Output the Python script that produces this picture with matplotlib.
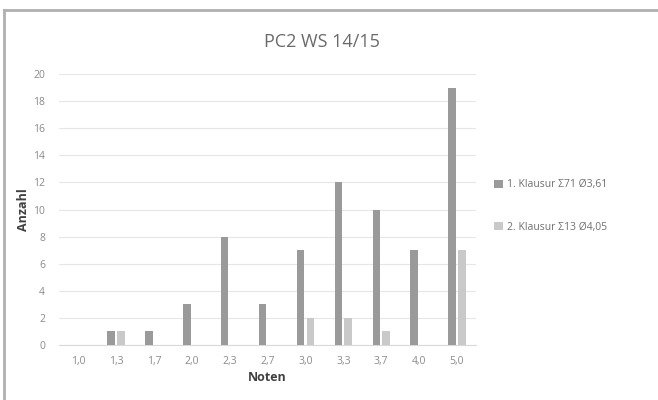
import matplotlib
matplotlib.use("Agg")
import matplotlib.pyplot as plt
import numpy as np
from matplotlib.lines import Line2D

categories = ["1,0", "1,3", "1,7", "2,0", "2,3", "2,7", "3,0", "3,3", "3,7", "4,0", "5,0"]
klausur1 = [0, 1, 1, 3, 8, 3, 7, 12, 10, 7, 19]
klausur2 = [0, 1, 0, 0, 0, 0, 2, 2, 1, 0, 7]
series_names = ["1. Klausur Σ71 Ø3,61", "2. Klausur Σ13 Ø4,05"]
yticks = list(range(0, 21, 2))

plt.rcParams['font.family'] = ['Open Sans', 'DejaVu Sans']

fig = plt.figure(figsize=(6.58, 4.0), dpi=100)
# frame: only top and left edges visible (cropped screenshot)
fig.lines.append(Line2D([4/658, 1.0], [1-10/400, 1-10/400], transform=fig.transFigure,
                        color="#b0b0b0", linewidth=2))
fig.lines.append(Line2D([4/658, 4/658], [0.0, 1-10/400], transform=fig.transFigure,
                        color="#b0b0b0", linewidth=2))
ax = fig.add_axes([59/658, 1-345/400, (476-59)/658, (345-74)/400])

x = np.arange(len(categories))
w = 0.2
ax.bar(x - 0.13, klausur1, width=w, color="#9a9a9a", label=series_names[0], zorder=3)
ax.bar(x + 0.13, klausur2, width=w, color="#c9c9c9", label=series_names[1], zorder=3)

ax.set_xlim(-0.5, len(categories) - 0.5)
ax.set_ylim(0, 20)
ax.set_yticks(yticks)
ax.set_xticks(x)
ax.set_xticklabels(categories)
ax.tick_params(axis='both', length=0, labelsize=7.5, colors="#8a8a8a")
ax.tick_params(axis='x', pad=8)
ax.tick_params(axis='y', pad=10)
ax.grid(axis='y', color="#e6e6e6", linewidth=0.8, zorder=0)
for s in ["top", "right", "left"]:
    ax.spines[s].set_visible(False)
ax.spines["bottom"].set_color("#d9d9d9")

ax.set_xlabel("Noten", fontsize=9, fontweight="bold", color="#404040", labelpad=3)
ax.set_ylabel("Anzahl", fontsize=9, fontweight="bold", color="#404040", labelpad=2)
fig.text(322/658, 1-42/400, "PC2 WS 14/15", ha="center", va="center", fontsize=13, color="#6a6a6a")

ax.legend(loc="center left", bbox_to_anchor=(485/658, 1-206/400), bbox_transform=fig.transFigure,
          frameon=False, fontsize=7.5, labelcolor="#707070", handlelength=0.8, handleheight=0.8,
          handletextpad=0.4, labelspacing=3.0)

fig.savefig("out.png", dpi=100)
